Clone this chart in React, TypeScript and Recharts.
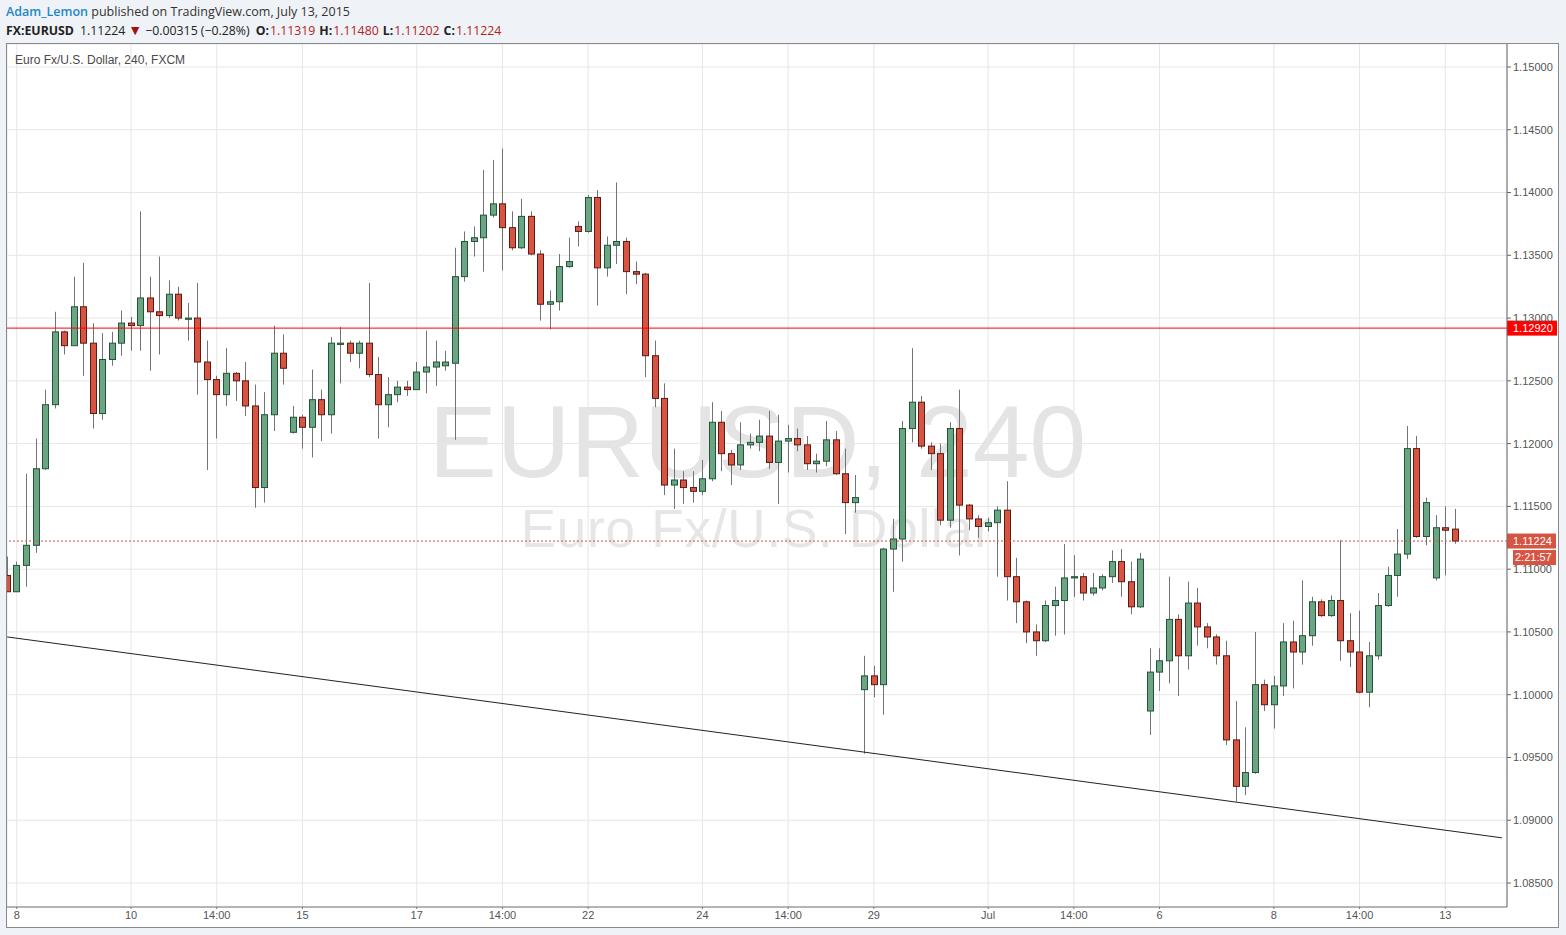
import { ComposedChart, Bar, XAxis, YAxis, CartesianGrid, ReferenceLine } from 'recharts'

// EUR/USD 4h candles, Jun 7 – Jul 13 2015
const opens = [
  1.1095, 1.1082, 1.1103, 1.1119, 1.1180, 1.1231, 1.1289, 1.1278, 1.1309, 1.1280,
  1.1224, 1.1267, 1.1280, 1.1296, 1.1294, 1.1316, 1.1305, 1.1302, 1.1319, 1.1299,
  1.1300, 1.1265, 1.1251, 1.1239, 1.1256, 1.1250, 1.1230, 1.1165, 1.1223, 1.1272,
  1.1209, 1.1221, 1.1213, 1.1235, 1.1223, 1.1279, 1.1280, 1.1272, 1.1280, 1.1255,
  1.1231, 1.1239, 1.1245, 1.1243, 1.1257, 1.1261, 1.1262, 1.1264, 1.1333, 1.1361,
  1.1364, 1.1382, 1.1391, 1.1372, 1.1356, 1.1381, 1.1351, 1.1311, 1.1313, 1.1341,
  1.1373, 1.1369, 1.1396, 1.1340, 1.1358, 1.1361, 1.1337, 1.1335, 1.1270, 1.1236,
  1.1167, 1.1171, 1.1165, 1.1162, 1.1172, 1.1217, 1.1192, 1.1183, 1.1199, 1.1201,
  1.1206, 1.1185, 1.1202, 1.1204, 1.1199, 1.1184, 1.1186, 1.1203, 1.1176, 1.1153,
  1.1004, 1.1015, 1.1008, 1.1116, 1.1124, 1.1212, 1.1233, 1.1198, 1.1192, 1.1139,
  1.1212, 1.1151, 1.1140, 1.1134, 1.1137, 1.1147, 1.1094, 1.1074, 1.1050, 1.1043,
  1.1071, 1.1075, 1.1093, 1.1094, 1.1081, 1.1085, 1.1094, 1.1106, 1.1090, 1.1070,
  1.0987, 1.1018, 1.1027, 1.1060, 1.1031, 1.1073, 1.1054, 1.1046, 1.1031, 1.0964,
  1.0927, 1.0938, 1.1008, 1.0992, 1.1007, 1.1042, 1.1034, 1.1047, 1.1074, 1.1063,
  1.1075, 1.1043, 1.1034, 1.1002, 1.1031, 1.1071, 1.1095, 1.1112, 1.1196, 1.1126,
  1.1093, 1.1133, 1.11319,
]
const highs = [
  1.1110, 1.1106, 1.1176, 1.1204, 1.1243, 1.1305, 1.1290, 1.1333, 1.1344, 1.1296,
  1.1288, 1.1289, 1.1306, 1.1301, 1.1385, 1.1333, 1.1349, 1.1330, 1.1325, 1.1312,
  1.1328, 1.1282, 1.1254, 1.1276, 1.1257, 1.1265, 1.1247, 1.1241, 1.1294, 1.1287,
  1.1230, 1.1223, 1.1259, 1.1243, 1.1285, 1.1293, 1.1282, 1.1282, 1.1328, 1.1269,
  1.1253, 1.1250, 1.1250, 1.1265, 1.1290, 1.1282, 1.1274, 1.1356, 1.1369, 1.1373,
  1.1418, 1.1426, 1.1435, 1.1385, 1.1395, 1.1385, 1.1354, 1.1322, 1.1351, 1.1364,
  1.1377, 1.1398, 1.1402, 1.1365, 1.1408, 1.1364, 1.1345, 1.1336, 1.1282, 1.1248,
  1.1196, 1.1178, 1.1178, 1.1187, 1.1233, 1.1226, 1.1195, 1.1217, 1.1208, 1.1219,
  1.1226, 1.1223, 1.1215, 1.1212, 1.1206, 1.1192, 1.1218, 1.1210, 1.1196, 1.1175,
  1.1031, 1.1023, 1.1117, 1.1140, 1.1218, 1.1276, 1.1238, 1.1201, 1.1200, 1.1217,
  1.1243, 1.1152, 1.1143, 1.1141, 1.1150, 1.1170, 1.1109, 1.1075, 1.1056, 1.1075,
  1.1086, 1.1120, 1.1111, 1.1097, 1.1097, 1.1096, 1.1115, 1.1116, 1.1106, 1.1113,
  1.1037, 1.1037, 1.1094, 1.1064, 1.1090, 1.1085, 1.1057, 1.1048, 1.1043, 1.0995,
  1.0974, 1.1050, 1.1012, 1.1015, 1.1057, 1.1059, 1.1091, 1.1078, 1.1076, 1.1079,
  1.1123, 1.1065, 1.1067, 1.1042, 1.1081, 1.1102, 1.1132, 1.1214, 1.1206, 1.1157,
  1.1143, 1.1150, 1.11480,
]
const lows = [
  1.1082, 1.1082, 1.1086, 1.1113, 1.1179, 1.1228, 1.1271, 1.1278, 1.1254, 1.1212,
  1.1219, 1.1262, 1.1270, 1.1274, 1.1274, 1.1258, 1.1271, 1.1300, 1.1298, 1.1282,
  1.1239, 1.1179, 1.1204, 1.1230, 1.1234, 1.1222, 1.1149, 1.1153, 1.1210, 1.1247,
  1.1208, 1.1196, 1.1189, 1.1202, 1.1208, 1.1248, 1.1265, 1.1260, 1.1253, 1.1204,
  1.1213, 1.1233, 1.1238, 1.1243, 1.1240, 1.1246, 1.1258, 1.1203, 1.1329, 1.1349,
  1.1337, 1.1380, 1.1338, 1.1354, 1.1355, 1.1350, 1.1298, 1.1291, 1.1306, 1.1340,
  1.1357, 1.1368, 1.1310, 1.1333, 1.1343, 1.1319, 1.1327, 1.1253, 1.1229, 1.1159,
  1.1148, 1.1152, 1.1153, 1.1159, 1.1170, 1.1178, 1.1167, 1.1179, 1.1196, 1.1194,
  1.1180, 1.1152, 1.1177, 1.1194, 1.1179, 1.1177, 1.1182, 1.1175, 1.1128, 1.1145,
  1.0953, 1.0998, 1.0984, 1.1082, 1.1106, 1.1201, 1.1196, 1.1179, 1.1135, 1.1133,
  1.1111, 1.1131, 1.1125, 1.1130, 1.1094, 1.1075, 1.1057, 1.1041, 1.1031, 1.1042,
  1.1047, 1.1048, 1.1078, 1.1075, 1.1079, 1.1083, 1.1089, 1.1078, 1.1064, 1.1069,
  1.0968, 1.1003, 1.1009, 1.0999, 1.1020, 1.1039, 1.1037, 1.1024, 1.0960, 1.0915,
  1.0920, 1.0937, 1.0987, 1.0973, 1.0999, 1.1005, 1.1024, 1.1039, 1.1062, 1.1062,
  1.1027, 1.1022, 1.1001, 1.0990, 1.1028, 1.1070, 1.1078, 1.1108, 1.1125, 1.1119,
  1.1091, 1.1095, 1.11202,
]
const closes = [
  1.1082, 1.1103, 1.1119, 1.1180, 1.1231, 1.1289, 1.1278, 1.1309, 1.1280, 1.1224,
  1.1267, 1.1280, 1.1296, 1.1294, 1.1316, 1.1305, 1.1302, 1.1319, 1.1300, 1.1300,
  1.1265, 1.1251, 1.1239, 1.1256, 1.1250, 1.1230, 1.1165, 1.1223, 1.1272, 1.1260,
  1.1221, 1.1213, 1.1235, 1.1223, 1.1280, 1.1280, 1.1272, 1.1280, 1.1255, 1.1231,
  1.1239, 1.1245, 1.1243, 1.1257, 1.1261, 1.1265, 1.1265, 1.1333, 1.1361, 1.1364,
  1.1382, 1.1391, 1.1372, 1.1356, 1.1381, 1.1351, 1.1311, 1.1313, 1.1341, 1.1345,
  1.1369, 1.1396, 1.1340, 1.1358, 1.1361, 1.1337, 1.1335, 1.1270, 1.1236, 1.1167,
  1.1171, 1.1165, 1.1162, 1.1172, 1.1217, 1.1192, 1.1183, 1.1199, 1.1201, 1.1206,
  1.1185, 1.1202, 1.1204, 1.1199, 1.1184, 1.1186, 1.1203, 1.1176, 1.1153, 1.1157,
  1.1015, 1.1008, 1.1116, 1.1124, 1.1212, 1.1233, 1.1198, 1.1192, 1.1139, 1.1212,
  1.1151, 1.1140, 1.1134, 1.1137, 1.1147, 1.1094, 1.1074, 1.1050, 1.1043, 1.1071,
  1.1075, 1.1093, 1.1094, 1.1081, 1.1085, 1.1094, 1.1106, 1.1090, 1.1070, 1.1108,
  1.1018, 1.1027, 1.1060, 1.1031, 1.1073, 1.1054, 1.1046, 1.1031, 1.0964, 1.0927,
  1.0938, 1.1008, 1.0992, 1.1007, 1.1042, 1.1034, 1.1047, 1.1074, 1.1063, 1.1075,
  1.1043, 1.1034, 1.1002, 1.1031, 1.1071, 1.1095, 1.1112, 1.1196, 1.1126, 1.1153,
  1.1133, 1.1131, 1.11224,
]

const dateTicks = [1, 13, 22, 31, 43, 52, 61, 73, 82, 91, 103, 112, 121, 133, 142, 151]
const dateLabels = ['8', '10', '14:00', '15', '17', '14:00', '22', '24', '14:00', '29', 'Jul', '14:00', '6', '8', '14:00', '13']
const priceTicks = [1.085, 1.09, 1.095, 1.1, 1.105, 1.11, 1.115, 1.12, 1.125, 1.13, 1.135, 1.14, 1.145, 1.15]

const resistance = 1.1292
const lastPrice = 1.11224
const countdown = '2:21:57'
const trendFrom = { i: 0, price: 1.1046 }
const trendTo = { i: 156.95, price: 1.0886 }

const data = opens.map((o, i) => ({ i, o, h: highs[i], l: lows[i], c: closes[i], range: [lows[i], highs[i]] }))

const axisFont = '"Liberation Sans", Arial, sans-serif'
const uiFont = '"Open Sans", "Liberation Sans", Arial, sans-serif'

function Candle(props: any) {
  const { x, y, width, height, payload } = props
  if (!payload) return null
  const { o, h, l, c } = payload
  const top = Math.min(y, y + height)
  const span = Math.abs(height)
  const k = span / (h - l)
  const yOf = (v: number) => top + (h - v) * k
  const up = c >= o
  const bTop = yOf(Math.max(o, c))
  const bBot = yOf(Math.min(o, c))
  const cx = Math.round(x + width / 2) + 0.5
  return (
    <g>
      <line x1={cx} x2={cx} y1={top} y2={top + span} stroke="#737373" strokeWidth={1} />
      <rect
        x={cx - width / 2 + 0.5}
        y={bTop}
        width={width - 1}
        height={Math.max(bBot - bTop, 1)}
        fill={up ? '#6ba583' : '#d75442'}
        stroke={up ? '#225437' : '#5b1a13'}
        strokeWidth={1}
      />
    </g>
  )
}

function ResistanceTag(props: any) {
  const { viewBox } = props
  if (!viewBox) return null
  const right = viewBox.x + viewBox.width
  const y = viewBox.y
  return (
    <g>
      <rect x={right} y={y - 7.5} width={50} height={15} fill="#ff0000" />
      <text x={right + 6} y={y} dy="0.36em" fill="#fff" fontSize={11} fontFamily={axisFont}>1.12920</text>
    </g>
  )
}

function LastTag(props: any) {
  const { viewBox } = props
  if (!viewBox) return null
  const right = viewBox.x + viewBox.width
  const y = viewBox.y
  return (
    <g>
      <rect x={right} y={y - 7.5} width={49} height={15} fill="#d75442" />
      <text x={right + 6} y={y} dy="0.36em" fill="#fff" fontSize={11} fontFamily={axisFont}>{lastPrice.toFixed(5)}</text>
      <rect x={right + 6} y={y + 9} width={43} height={15} fill="#d75442" />
      <text x={right + 8} y={y + 16.5} dy="0.36em" fill="#fff" fontSize={11} fontFamily={axisFont}>{countdown}</text>
    </g>
  )
}

const red = { color: '#b4231a', marginLeft: 1 }

export default function App() {
  return (
    <div style={{ position: 'relative', width: 1566, height: 935, background: '#eff2f6', overflow: 'hidden' }}>
      <style>{'body{margin:0}'}</style>
      <div style={{ position: 'absolute', left: 6, top: 3, fontFamily: uiFont, fontSize: 12.5, color: '#333', whiteSpace: 'nowrap' }}>
        <span style={{ color: '#1e88c7', fontWeight: 600 }}>Adam_Lemon</span> published on TradingView.com, July 13, 2015
      </div>
      <div style={{ position: 'absolute', left: 6, top: 20, fontFamily: uiFont, fontSize: 12.3, color: '#222', whiteSpace: 'nowrap' }}>
        <b>FX:EURUSD</b>
        <span style={{ marginLeft: 6 }}>1.11224</span>
        <span style={{ color: '#a30f0f', marginLeft: 3, fontSize: 14 }}>▼</span>
        <span style={{ marginLeft: 3 }}>−0.00315 (−0.28%)</span>
        <b style={{ marginLeft: 6 }}>O:</b><span style={red}>1.11319</span>
        <b style={{ marginLeft: 4 }}>H:</b><span style={red}>1.11480</span>
        <b style={{ marginLeft: 4 }}>L:</b><span style={red}>1.11202</span>
        <b style={{ marginLeft: 4 }}>C:</b><span style={red}>1.11224</span>
      </div>

      <div style={{ position: 'absolute', left: 6, top: 43, width: 1551, height: 883, border: '1px solid #8a8a8a', background: '#fff' }}>
        <svg width={1551} height={883} style={{ position: 'absolute', left: 0, top: 0 }}>
          <text x={750.5} y={433} textAnchor="middle" fontSize={102} fill="#e4e4e4" fontFamily={axisFont}>EURUSD, 240</text>
          <text x={749.5} y={503} textAnchor="middle" fontSize={53} fill="#e6e6e6" fontFamily={axisFont} letterSpacing={0.8}>Euro Fx/U.S. Dollar</text>
        </svg>
        <div style={{ position: 'absolute', left: 0, top: 0 }}>
          <ComposedChart width={1551} height={883} data={data} margin={{ top: 0, right: 0, bottom: 0, left: 0 }}>
            <CartesianGrid stroke="#e6e6e6" />
            <XAxis
              dataKey="i"
              type="number"
              domain={[-0.02, 157.48]}
              allowDataOverflow
              ticks={dateTicks}
              interval={0}
              tickFormatter={(v: number) => dateLabels[dateTicks.indexOf(v)] ?? ''}
              height={20}
              stroke="#777"
              tickSize={2}
              tick={{ fill: '#555', fontSize: 11, fontFamily: axisFont }}
            />
            <YAxis
              orientation="right"
              type="number"
              domain={[1.08309, 1.15183]}
              allowDataOverflow
              ticks={priceTicks}
              interval={0}
              tickFormatter={(v: number) => v.toFixed(5)}
              width={51}
              stroke="#666"
              tickSize={4}
              tickMargin={2}
              tick={{ fill: '#555', fontSize: 11, fontFamily: axisFont, textAnchor: 'start' }}
            />
            <Bar dataKey="range" barSize={7} shape={<Candle />} isAnimationActive={false} />
            <ReferenceLine
              segment={[{ x: trendFrom.i, y: trendFrom.price }, { x: trendTo.i, y: trendTo.price }]}
              stroke="#222"
              strokeWidth={1}
            />
            <ReferenceLine y={resistance} stroke="#ff0000" strokeWidth={1} label={<ResistanceTag />} />
            <ReferenceLine y={lastPrice} stroke="#c8503f" strokeDasharray="2 2" strokeWidth={1} label={<LastTag />} />
          </ComposedChart>
        </div>
        <div style={{ position: 'absolute', left: 8, top: 9, fontFamily: axisFont, fontSize: 12, color: '#4a4a4a' }}>
          Euro Fx/U.S. Dollar, 240, FXCM
        </div>
      </div>
    </div>
  )
}
